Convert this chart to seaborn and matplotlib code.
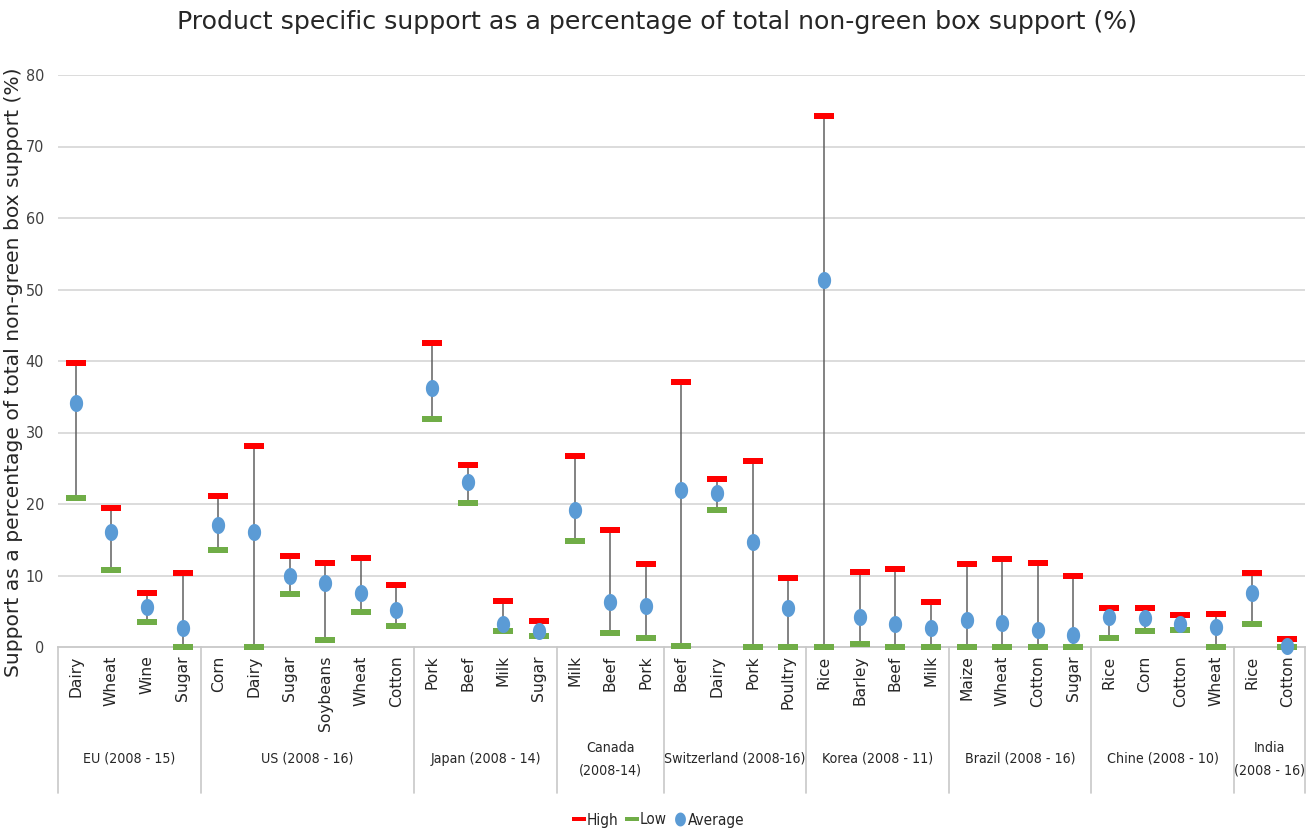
import numpy as np
import pandas as pd
import seaborn as sns
import matplotlib
matplotlib.use("Agg")
import matplotlib.pyplot as plt
from matplotlib.path import Path
from matplotlib.lines import Line2D
from matplotlib.transforms import blended_transform_factory

# ---- data ----
groups = ["EU (2008 - 15)", "US (2008 - 16)", "Japan (2008 - 14)", "Canada\n(2008-14)",
          "Switzerland (2008-16)", "Korea (2008 - 11)", "Brazil (2008 - 16)",
          "Chine (2008 - 10)", "India\n(2008 - 16)"]
group_sizes = [4, 6, 4, 3, 4, 4, 4, 4, 2]
products = ["Dairy", "Wheat", "Wine", "Sugar",
            "Corn", "Dairy", "Sugar", "Soybeans", "Wheat", "Cotton",
            "Pork", "Beef", "Milk", "Sugar",
            "Milk", "Beef", "Pork",
            "Beef", "Dairy", "Pork", "Poultry",
            "Rice", "Barley", "Beef", "Milk",
            "Maize", "Wheat", "Cotton", "Sugar",
            "Rice", "Corn", "Cotton", "Wheat",
            "Rice", "Cotton"]
high = [39.7, 19.4, 7.5, 10.3,
        21.1, 28.1, 12.7, 11.8, 12.5, 8.7,
        42.5, 25.4, 6.5, 3.6,
        26.7, 16.3, 11.6,
        37.0, 23.5, 26.0, 9.7,
        74.2, 10.5, 10.9, 6.3,
        11.6, 12.3, 11.8, 9.9,
        5.4, 5.4, 4.5, 4.6,
        10.3, 1.1]
low = [20.9, 10.8, 3.5, 0.0,
       13.6, 0.0, 7.4, 1.0, 4.9, 2.9,
       31.9, 20.1, 2.3, 1.6,
       14.8, 1.9, 1.3,
       0.2, 19.1, 0.0, 0.0,
       0.0, 0.4, 0.0, 0.0,
       0.0, 0.0, 0.0, 0.0,
       1.3, 2.3, 2.4, 0.0,
       3.2, 0.0]
average = [34.1, 16.1, 5.6, 2.6,
           17.0, 16.1, 9.9, 9.0, 7.5, 5.2,
           36.2, 23.1, 3.2, 2.3,
           19.1, 6.3, 5.7,
           22.0, 21.6, 14.7, 5.4,
           51.3, 4.2, 3.2, 2.7,
           3.8, 3.4, 2.4, 1.7,
           4.2, 4.1, 3.2, 2.8,
           7.6, 0.1]

df = pd.DataFrame({"pos": np.arange(len(products)), "product": products,
                   "High": high, "Low": low, "Average": average})

RED = "#FF0000"
GREEN = "#70AD47"
BLUE = "#5B9BD5"
TXT = "#404040"
GRID = "#D9D9D9"
SEP = "#C8C8C8"
COND = dict(family="DejaVu Sans", stretch="condensed")

sns.set_theme(style="white")
plt.rcParams["font.family"] = ["DejaVu Sans"]

fig = plt.figure(figsize=(13.11, 8.34), dpi=100)
ax = fig.add_axes([58 / 1311, 1 - 647 / 834, (1305 - 58) / 1311, (647 - 75) / 834])

n = len(products)
ax.set_xlim(-0.5, n - 0.5)
ax.set_ylim(0, 80)
ax.set_yticks(np.arange(0, 81, 10))
for y in np.arange(10, 81, 10):
    ax.axhline(y, color=GRID, lw=1.3, zorder=0)

# range lines from low to high
ax.vlines(df["pos"], df["Low"], df["High"], color="#606060", lw=1.1, zorder=2)

bar = Path([(-1, -0.28), (1, -0.28), (1, 0.28), (-1, 0.28), (-1, -0.28)],
           [Path.MOVETO, Path.LINETO, Path.LINETO, Path.LINETO, Path.CLOSEPOLY])
t = np.linspace(0, 2 * np.pi, 60)
ellipse = Path(np.column_stack([0.78 * np.cos(t), np.sin(t)]))

sns.scatterplot(data=df, x="pos", y="High", marker=bar, s=210, color=RED,
                linewidth=0, ax=ax, zorder=3, clip_on=False, legend=False)
sns.scatterplot(data=df, x="pos", y="Low", marker=bar, s=210, color=GREEN,
                linewidth=0, ax=ax, zorder=3, clip_on=False, legend=False)
sns.scatterplot(data=df, x="pos", y="Average", marker=ellipse, s=150, color=BLUE,
                linewidth=0, ax=ax, zorder=4, clip_on=False, legend=False)

# axes styling
for side in ["top", "right", "left"]:
    ax.spines[side].set_visible(False)
ax.spines["bottom"].set_color(SEP)
ax.spines["bottom"].set_linewidth(1.3)
ax.set_xlabel("")
ax.set_ylabel("")
ax.set_xticks(df["pos"])
ax.set_xticklabels(products, rotation=90, fontsize=11.2, color="#262626", va="top")
ax.tick_params(axis="x", length=0, pad=6)
ax.tick_params(axis="y", length=0, pad=10)
for lab in ax.get_yticklabels():
    lab.set_fontsize(11.5)
    lab.set_color(TXT)
    lab.set_fontstretch("condensed")

# group separators and labels under the axis
tr = blended_transform_factory(ax.transData, ax.transAxes)
depth = -(793 - 647) / (647 - 75)
edges = np.concatenate([[0], np.cumsum(group_sizes)]) - 0.5
for e in edges:
    ax.plot([e, e], [0, depth], transform=tr, color=SEP, lw=1.2, clip_on=False)
label_y = -(759 - 647) / (647 - 75)
for g, a, b in zip(groups, edges[:-1], edges[1:]):
    ax.text((a + b) / 2, label_y, g, transform=tr, ha="center", va="center",
            fontsize=10.2, color="#262626", linespacing=1.75, **COND)

fig.text(0.501, 1 - 22 / 834, "Product specific support as a percentage of total non-green box support (%)",
         ha="center", va="center", fontsize=18.2, color="#262626")
fig.text(14 / 1311, 1 - 372 / 834, "Support as a percentage of total non-green box support (%)",
         rotation=90, ha="center", va="center", fontsize=14.6, color="#262626")

handles = [
    Line2D([], [], linestyle="none", marker=bar, markersize=10, color=RED, markeredgewidth=0),
    Line2D([], [], linestyle="none", marker=bar, markersize=10, color=GREEN, markeredgewidth=0),
    Line2D([], [], linestyle="none", marker=ellipse, markersize=10, color=BLUE, markeredgewidth=0),
]
leg = fig.legend(handles, ["High", "Low", "Average"], loc="center", ncol=3,
                 bbox_to_anchor=(0.503, 1 - 820 / 834), frameon=False,
                 handlelength=0.6, handletextpad=0.2, columnspacing=0.6,
                 prop=dict(size=11, **COND))
for txt in leg.get_texts():
    txt.set_color("#262626")

fig.savefig("out.png", dpi=100)
